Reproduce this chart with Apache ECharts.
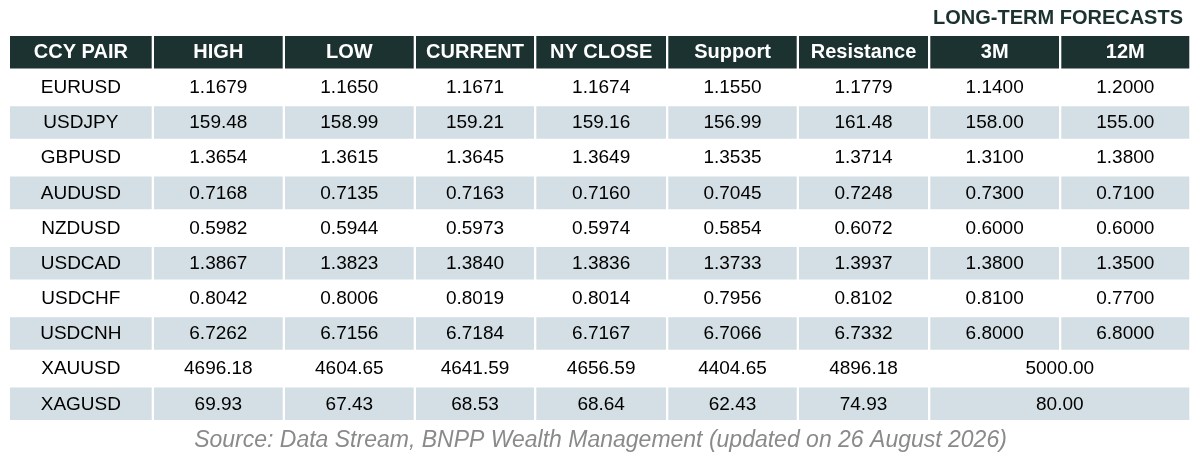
<!DOCTYPE html>
<html>
<head>
<meta charset="utf-8">
<script src="https://cdn.jsdelivr.net/npm/echarts@6/dist/echarts.min.js"></script>
<style>
    html, body { margin: 0; padding: 0; background: #fff; }
    #fxTable { width: 1201px; height: 463px; }
</style>
</head>
<body>
<div id="fxTable"></div>
<script>
// table content
var headers = ['CCY PAIR', 'HIGH', 'LOW', 'CURRENT', 'NY CLOSE', 'Support', 'Resistance', '3M', '12M'];
var pairs = ['EURUSD', 'USDJPY', 'GBPUSD', 'AUDUSD', 'NZDUSD', 'USDCAD', 'USDCHF', 'USDCNH', 'XAUUSD', 'XAGUSD'];
var decimals = [4, 2, 4, 4, 4, 4, 4, 4, 2, 2];
var high = [1.1679, 159.48, 1.3654, 0.7168, 0.5982, 1.3867, 0.8042, 6.7262, 4696.18, 69.93];
var low = [1.1650, 158.99, 1.3615, 0.7135, 0.5944, 1.3823, 0.8006, 6.7156, 4604.65, 67.43];
var current = [1.1671, 159.21, 1.3645, 0.7163, 0.5973, 1.3840, 0.8019, 6.7184, 4641.59, 68.53];
var nyClose = [1.1674, 159.16, 1.3649, 0.7160, 0.5974, 1.3836, 0.8014, 6.7167, 4656.59, 68.64];
var support = [1.1550, 156.99, 1.3535, 0.7045, 0.5854, 1.3733, 0.7956, 6.7066, 4404.65, 62.43];
var resistance = [1.1779, 161.48, 1.3714, 0.7248, 0.6072, 1.3937, 0.8102, 6.7332, 4896.18, 74.93];
var forecast3m = [1.1400, 158.00, 1.3100, 0.7300, 0.6000, 1.3800, 0.8100, 6.8000, 5000.00, 80.00];
// null = single long-term forecast spanning 3M and 12M
var forecast12m = [1.2000, 155.00, 1.3800, 0.7100, 0.6000, 1.3500, 0.7700, 6.8000, null, null];
var titleText = 'LONG-TERM FORECASTS';
var sourceText = 'Source: Data Stream, BNPP Wealth Management (updated on 26 August 2026)';

// layout
var colWidths = [144, 131, 131, 120.3, 132, 130.7, 131.3, 131, 130.3];
var colGap = 2.3, rowGap = 2.6;
var colEdges = [0];
colWidths.forEach(function (w, i) { colEdges.push(colEdges[i] + w); });
var totalWidth = colEdges[colEdges.length - 1];
var rowNames = ['header'].concat(pairs);

var FONT = '"Liberation Sans", Arial, sans-serif';
var DARK = '#1c3230';
var BAND = '#d3dfe4';

// build cells: [col, row, text, span]
var cells = [];
headers.forEach(function (h, c) { cells.push([c, 0, h, 1]); });
var valueCols = [high, low, current, nyClose, support, resistance, forecast3m, forecast12m];
pairs.forEach(function (p, r) {
    cells.push([0, r + 1, p, 1]);
    valueCols.forEach(function (arr, k) {
        var v = arr[r];
        if (v === null) return;
        var span = (k === 6 && forecast12m[r] === null) ? 2 : 1;
        cells.push([k + 1, r + 1, v.toFixed(decimals[r]), span]);
    });
});

function renderCell(params, api) {
    var col = api.value(0), row = api.value(1), span = api.value(3);
    var text = cells[params.dataIndex][2];
    var left = api.coord([colEdges[col], row]);
    var right = api.coord([colEdges[col + span], row]);
    var bandH = api.size([0, 1])[1];
    var top = left[1] - bandH / 2;
    var x0 = left[0], w = right[0] - left[0] - colGap, h = bandH - rowGap;
    var isHeader = row === 0;
    var fill = isHeader ? DARK : (row % 2 === 0 ? BAND : '#ffffff');
    return {
        type: 'group',
        children: [{
            type: 'rect',
            shape: {x: x0, y: top, width: w, height: h},
            style: {fill: fill}
        }, {
            type: 'text',
            style: {
                text: text,
                x: x0 + w / 2,
                y: top + h / 2 + 0.5,
                align: 'center',
                verticalAlign: 'middle',
                fill: isHeader ? '#ffffff' : '#000000',
                font: (isHeader ? 'bold 20px ' : '19px ') + FONT
            }
        }]
    };
}

var chart = echarts.init(document.getElementById('fxTable'));
chart.setOption({
    animation: false,
    title: [{
        text: titleText,
        right: 18,
        top: 8,
        padding: 0,
        textStyle: {color: DARK, fontSize: 20, fontWeight: 'bold', fontFamily: FONT}
    }, {
        text: sourceText,
        left: 'center',
        top: 429,
        padding: 0,
        textStyle: {color: '#8a8a8a', fontSize: 23, fontStyle: 'italic', fontWeight: 'normal', fontFamily: FONT}
    }],
    grid: {left: 10, top: 36, width: totalWidth, height: 386.7},
    xAxis: {
        type: 'value', min: 0, max: totalWidth,
        show: false
    },
    yAxis: {
        type: 'category', data: rowNames, inverse: true,
        show: false
    },
    series: [{
        type: 'custom',
        renderItem: renderCell,
        data: cells.map(function (c) { return [c[0], c[1], c[2], c[3]]; }),
        encode: {x: 0, y: 1}
    }]
});
</script>
</body>
</html>
